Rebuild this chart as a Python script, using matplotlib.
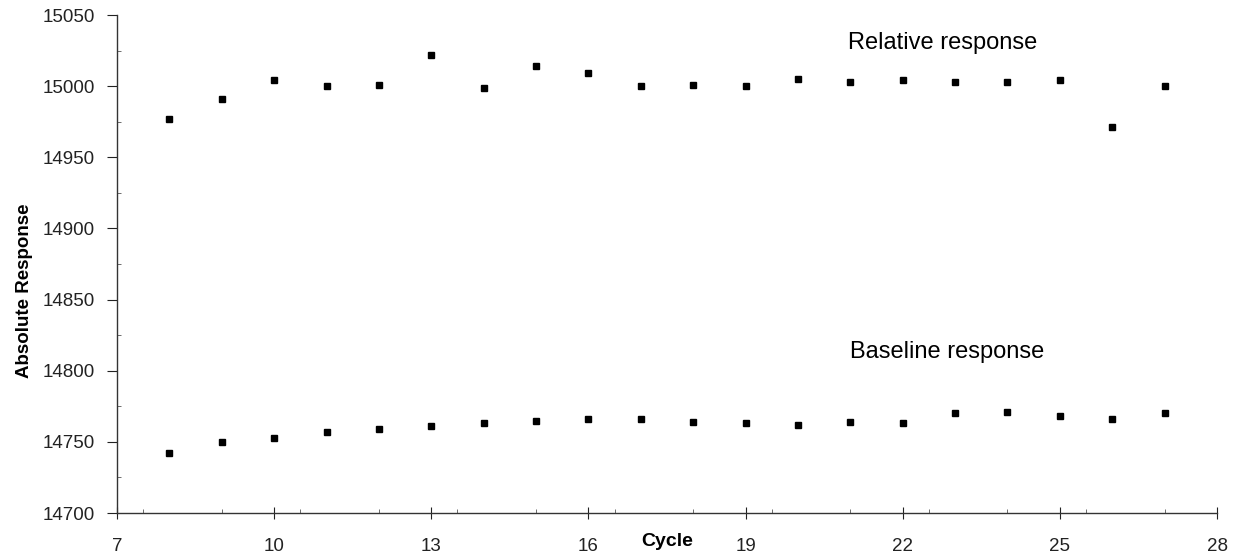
import matplotlib.pyplot as plt
import matplotlib.transforms as mtransforms
from matplotlib.ticker import MultipleLocator

plt.rcParams['font.family'] = ['Liberation Sans', 'DejaVu Sans']

# cycle numbers
cycles = [8, 9, 10, 11, 12, 13, 14, 15, 16, 17, 18, 19, 20, 21, 22, 23, 24, 25, 26, 27]

# relative response (upper series)
relative = [14977, 14991, 15004, 15000, 15001, 15022, 14999, 15014, 15009, 15000,
            15001, 15000, 15005, 15003, 15004, 15003, 15003, 15004, 14971, 15000]

# baseline response (lower series)
baseline = [14742, 14750, 14753, 14757, 14759, 14761, 14763, 14765, 14766, 14766,
            14764, 14763, 14762, 14764, 14763, 14770, 14771, 14768, 14766, 14770]

x_ticks = [7, 10, 13, 16, 19, 22, 25, 28]
y_ticks = [14700, 14750, 14800, 14850, 14900, 14950, 15000, 15050]

fig = plt.figure(figsize=(12.35, 5.56), dpi=100)
ax = fig.add_axes([117 / 1235, 1 - 513 / 556, 1100 / 1235, 498 / 556])

ax.plot(cycles, relative, linestyle='none', marker='s', markersize=3.8, color='black')
ax.plot(cycles, baseline, linestyle='none', marker='s', markersize=3.8, color='black')

ax.set_xlim(7, 28)
ax.set_ylim(14700, 15050)
ax.set_xticks(x_ticks)
ax.set_yticks(y_ticks)
ax.xaxis.set_minor_locator(MultipleLocator(1.5))
ax.yaxis.set_minor_locator(MultipleLocator(25))

for side in ['top', 'right']:
    ax.spines[side].set_visible(False)
for side in ['left', 'bottom']:
    ax.spines[side].set_color('#333333')
    ax.spines[side].set_linewidth(1.0)

ax.tick_params(axis='x', which='major', direction='inout', length=8, width=0.8,
               pad=14, labelsize=13.5, colors='#222222')
ax.tick_params(axis='x', which='minor', direction='in', length=3, width=0.6, colors='#555555')
ax.tick_params(axis='y', which='major', direction='out', length=7, width=0.8,
               pad=9, labelsize=13.5, colors='#222222')
ax.tick_params(axis='y', which='minor', direction='in', length=3, width=0.6, colors='#555555')

ax.text(20.95, 15030, 'Relative response', fontsize=17, ha='left', va='center')
ax.text(21.0, 14813, 'Baseline response', fontsize=17, ha='left', va='center')

# axis titles placed like the original
fig.text(25 / 1235, 1 - 291 / 556, 'Absolute Response', rotation=90, fontsize=13.5,
         fontweight='bold', ha='center', va='center')
cycle_trans = mtransforms.blended_transform_factory(ax.transData, fig.transFigure)
ax.text(17.5, 1 - 541 / 556, 'Cycle', transform=cycle_trans, fontsize=14,
        fontweight='bold', ha='center', va='center')

fig.savefig('out.png', dpi=100)
